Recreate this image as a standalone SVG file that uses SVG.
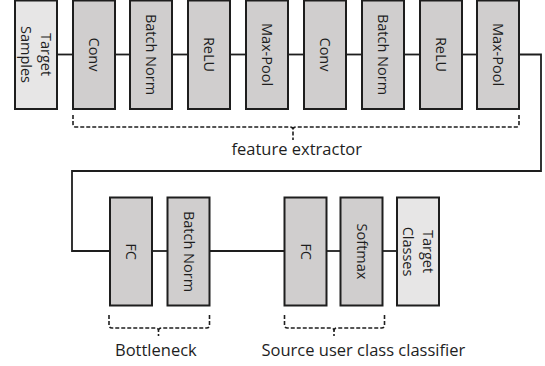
<svg xmlns="http://www.w3.org/2000/svg" width="545" height="366" viewBox="0 0 545 366">
<style>
.box{fill:#d0cece;stroke:#1e1e1e;stroke-width:2}
.io{fill:#e7e6e6;stroke:#1e1e1e;stroke-width:2}
.bt{font-family:"Open Sans","DejaVu Sans",sans-serif;font-size:14.5px;fill:#1e1e1e;text-anchor:middle}
.lbl{font-family:"Open Sans","DejaVu Sans",sans-serif;font-size:16.5px;fill:#1e1e1e}
.con{fill:none;stroke:#1e1e1e;stroke-width:1.8}
.brace{fill:none;stroke:#1e1e1e;stroke-width:1.6;stroke-dasharray:4 2}
</style>
<rect width="545" height="366" fill="#fff"/>
<g id="connectors">
<path class="con" d="M57,54.5H73"/>
<path class="con" d="M115,54.5H130"/>
<path class="con" d="M172,54.5H188"/>
<path class="con" d="M230,54.5H246"/>
<path class="con" d="M288,54.5H304"/>
<path class="con" d="M346,54.5H362"/>
<path class="con" d="M404,54.5H420"/>
<path class="con" d="M462,54.5H477"/>
<path class="con" d="M519,54.5H541V171H72V251H110"/>
<path class="con" d="M152,251H167"/>
<path class="con" d="M210,251H284"/>
<path class="con" d="M327,251H340"/>
<path class="con" d="M383,251H397"/>
</g>
<g id="target-samples"><rect class="io" x="15" y="0.5" width="42" height="108.5"/><g transform="translate(36,54.5) rotate(90)"><text class="bt" x="0" y="-5">Target</text><text class="bt" x="0" y="15">Samples</text></g></g>
<g id="conv1"><rect class="box" x="73" y="0.5" width="42" height="108.5"/><text class="bt" transform="translate(94,54.5) rotate(90)" y="5">Conv</text></g>
<g id="bn1"><rect class="box" x="130" y="0.5" width="42" height="108.5"/><text class="bt" transform="translate(151,54.5) rotate(90)" y="5">Batch Norm</text></g>
<g id="relu1"><rect class="box" x="188" y="0.5" width="42" height="108.5"/><text class="bt" transform="translate(209,54.5) rotate(90)" y="5">ReLU</text></g>
<g id="maxpool1"><rect class="box" x="246" y="0.5" width="42" height="108.5"/><text class="bt" transform="translate(267,54.5) rotate(90)" y="5">Max-Pool</text></g>
<g id="conv2"><rect class="box" x="304" y="0.5" width="42" height="108.5"/><text class="bt" transform="translate(325,54.5) rotate(90)" y="5">Conv</text></g>
<g id="bn2"><rect class="box" x="362" y="0.5" width="42" height="108.5"/><text class="bt" transform="translate(383,54.5) rotate(90)" y="5">Batch Norm</text></g>
<g id="relu2"><rect class="box" x="420" y="0.5" width="42" height="108.5"/><text class="bt" transform="translate(441,54.5) rotate(90)" y="5">ReLU</text></g>
<g id="maxpool2"><rect class="box" x="477" y="0.5" width="42" height="108.5"/><text class="bt" transform="translate(498,54.5) rotate(90)" y="5">Max-Pool</text></g>
<g id="feature-extractor"><path class="brace" d="M73,115V124Q73,127 76,127H290Q293,127 293,130V140M519,115V124Q519,127 516,127H296Q293,127 293,130"/><text class="lbl" x="231.5" y="154.5">feature extractor</text></g>
<g id="fc1"><rect class="box" x="110" y="197.5" width="42" height="108"/><text class="bt" transform="translate(131,251.5) rotate(90)" y="5">FC</text></g>
<g id="bn3"><rect class="box" x="167.5" y="197.5" width="42" height="108"/><text class="bt" transform="translate(188.5,251.5) rotate(90)" y="5">Batch Norm</text></g>
<g id="fc2"><rect class="box" x="284.5" y="197.5" width="42" height="108"/><text class="bt" transform="translate(305.5,251.5) rotate(90)" y="5">FC</text></g>
<g id="softmax"><rect class="box" x="340.5" y="197.5" width="42" height="108"/><text class="bt" transform="translate(361.5,251.5) rotate(90)" y="5">Softmax</text></g>
<g id="target-classes"><rect class="io" x="397" y="197.5" width="42" height="108"/><g transform="translate(418,251.5) rotate(90)"><text class="bt" x="0" y="-5">Target</text><text class="bt" x="0" y="15">Classes</text></g></g>
<g id="bottleneck"><path class="brace" d="M109,315V325Q109,328 112,328H155.5Q158.5,328 158.5,331V336M209.5,315V325Q209.5,328 206.5,328H161.5Q158.5,328 158.5,331"/><text class="lbl" x="115" y="355.7">Bottleneck</text></g>
<g id="classifier"><path class="brace" d="M284.5,315V325Q284.5,328 287.5,328H331Q334,328 334,331V336M384.5,315V325Q384.5,328 381.5,328H337Q334,328 334,331"/><text class="lbl" x="261.5" y="355.7">Source user class classifier</text></g>
</svg>
